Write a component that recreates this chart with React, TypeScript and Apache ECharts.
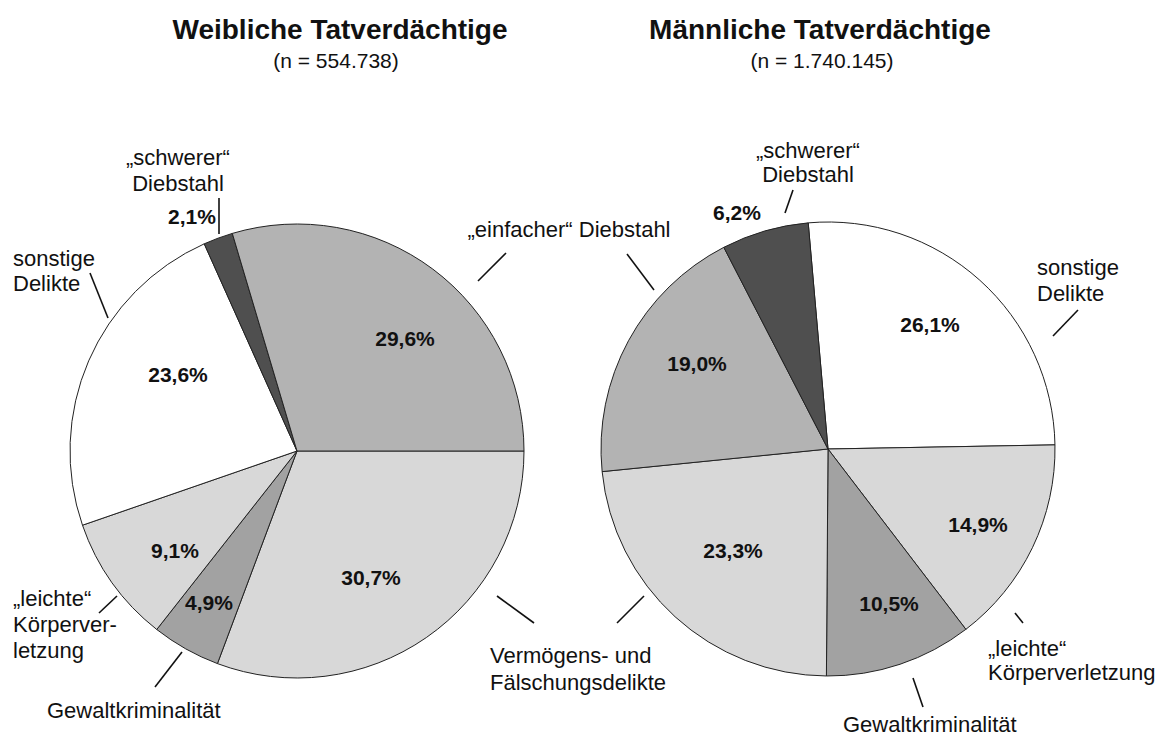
import React, { useEffect, useRef } from "react";
import * as echarts from "echarts";

const FONT = '"Liberation Sans", Arial, sans-serif';

// Left pie (weiblich), drawn clockwise from 3 o'clock
const femaleCategories = [
  "Vermögens- und Fälschungsdelikte",
  "Gewaltkriminalität",
  "„leichte“ Körperverletzung",
  "sonstige Delikte",
  "„schwerer“ Diebstahl",
  "„einfacher“ Diebstahl",
];
const femaleValues = [30.7, 4.9, 9.1, 23.6, 2.1, 29.6];

// Right pie (männlich), drawn clockwise from just left of 12 o'clock
const maleCategories = [
  "sonstige Delikte",
  "„leichte“ Körperverletzung",
  "Gewaltkriminalität",
  "Vermögens- und Fälschungsdelikte",
  "„einfacher“ Diebstahl",
  "„schwerer“ Diebstahl",
];
const maleValues = [26.1, 14.9, 10.5, 23.3, 19.0, 6.2];

const titles = ["Weibliche Tatverdächtige", "Männliche Tatverdächtige"];
const subtitles = ["(n = 554.738)", "(n = 1.740.145)"];

const categoryColors: Record<string, string> = {
  "Vermögens- und Fälschungsdelikte": "#d8d8d8",
  "Gewaltkriminalität": "#a2a2a2",
  "„leichte“ Körperverletzung": "#d8d8d8",
  "sonstige Delikte": "#ffffff",
  "„schwerer“ Diebstahl": "#4f4f4f",
  "„einfacher“ Diebstahl": "#b3b3b3",
};

// label anchor positions (layout only)
const femaleLabelPos = [
  [371, 577], [209, 602], [175, 550], [178, 374], [192, 216], [405, 338],
];
const maleLabelPos = [
  [930, 324], [978, 524], [889, 603], [733, 550], [697, 363], [737, 212],
];

const fmt = (v: number) => v.toFixed(1).replace(".", ",") + "%";

export default function App() {
  const ref = useRef<HTMLDivElement>(null);
  useEffect(() => {
    if (!ref.current) return;
    const chart = echarts.init(ref.current, null, { renderer: "svg" });

    const mkData = (cats: string[], vals: number[]) =>
      cats.map((c, i) => ({
        name: c,
        value: vals[i],
        itemStyle: { color: categoryColors[c] },
      }));

    const pieBase = {
      type: "pie" as const,
      radius: 227,
      clockwise: true,
      avoidLabelOverlap: false,
      itemStyle: { borderColor: "#222", borderWidth: 1 },
      label: {
        show: true,
        position: "inside",
        formatter: (p: any) => fmt(p.value),
        fontFamily: FONT,
        fontWeight: "bold",
        fontSize: 21,
        color: "#111",
      },
      labelLine: { show: false },
      emphasis: { disabled: true },
      silent: true,
    };

    const txt = (
      text: string,
      x: number,
      y: number,
      opts: any = {}
    ) => ({
      type: "text",
      x,
      y,
      silent: true,
      style: {
        text,
        fill: "#111",
        font: `${opts.weight || "normal"} ${opts.size || 22}px ${FONT}`,
        align: opts.align || "left",
        verticalAlign: "middle",
        lineHeight: opts.lh || 26,
      },
    });
    const ln = (x1: number, y1: number, x2: number, y2: number) => ({
      type: "line",
      silent: true,
      shape: { x1, y1, x2, y2 },
      style: { stroke: "#111", lineWidth: 1.6 },
    });

    chart.setOption({
      animation: false,
      backgroundColor: "#ffffff",
      series: [
        {
          ...pieBase,
          center: [297, 451],
          startAngle: 0,
          data: mkData(femaleCategories, femaleValues),
          labelLayout: (p: any) => {
            const q = femaleLabelPos[p.dataIndex];
            return { x: q[0], y: q[1], align: "center", verticalAlign: "middle" };
          },
        },
        {
          ...pieBase,
          center: [828, 449],
          startAngle: 95,
          data: mkData(maleCategories, maleValues),
          labelLayout: (p: any) => {
            const q = maleLabelPos[p.dataIndex];
            return { x: q[0], y: q[1], align: "center", verticalAlign: "middle" };
          },
        },
      ],
      graphic: [
        txt(titles[0], 340, 29, { size: 28, weight: "bold", align: "center" }),
        txt(subtitles[0], 336, 60, { size: 21, align: "center" }),
        txt(titles[1], 820, 29, { size: 28, weight: "bold", align: "center" }),
        txt(subtitles[1], 822, 60, { size: 21, align: "center" }),
        // left pie outer labels
        txt("„schwerer“\nDiebstahl", 178, 170, { align: "center", lh: 26 }),
        txt("sonstige\nDelikte", 13, 271, { lh: 25 }),
        txt("„einfacher“ Diebstahl", 569, 229, { align: "center" }),
        txt("„leichte“\nKörperver-\nletzung", 13, 624, { lh: 26 }),
        txt("Gewaltkriminalität", 47, 710),
        txt("Vermögens- und\nFälschungsdelikte", 490, 669, { lh: 27 }),
        // right pie outer labels
        txt("„schwerer“\nDiebstahl", 808, 162, { align: "center", lh: 24 }),
        txt("sonstige\nDelikte", 1037, 280, { lh: 26 }),
        txt("„leichte“\nKörperverletzung", 988, 660, { lh: 24 }),
        txt("Gewaltkriminalität", 843, 724),
        // leader lines left
        ln(219, 198, 219, 234),
        ln(90, 273, 108, 318),
        ln(506, 253, 478, 281),
        ln(117, 596, 99, 613),
        ln(182, 652, 155, 687),
        ln(497, 596, 534, 623),
        // leader lines right
        ln(627, 254, 654, 290),
        ln(793, 190, 785, 213),
        ln(1078, 310, 1053, 336),
        ln(1015, 613, 1023, 623),
        ln(913, 678, 923, 707),
        ln(644, 596, 617, 623),
      ],
    });
    return () => chart.dispose();
  }, []);
  return (
    <div
      ref={ref}
      style={{ position: "fixed", left: 0, top: 0, width: 1165, height: 737, background: "#fff" }}
    />
  );
}
